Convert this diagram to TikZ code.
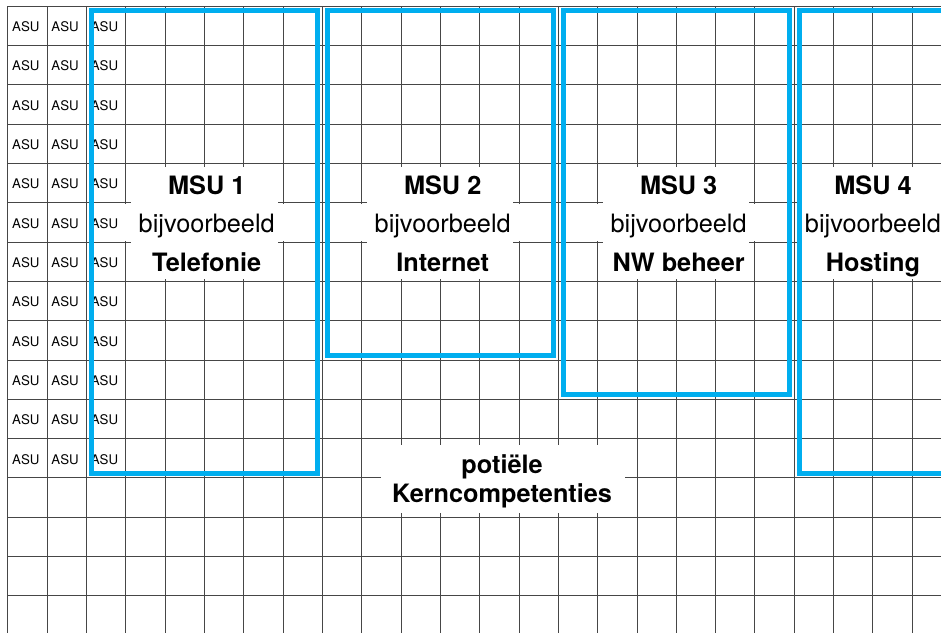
\documentclass[tikz,border=0pt]{standalone}
\usepackage{fontspec}
\setmainfont{TeX Gyre Heros}
\definecolor{msublue}{RGB}{0,174,239}
\definecolor{gridc}{RGB}{70,70,70}
\tikzset{
  gridline/.style={draw=gridc, line width=0.7pt},
  asu/.style={font=\fontsize{9.6}{11}\selectfont, anchor=base, inner sep=0pt},
  lbl/.style={font=\fontsize{18.3}{21}\selectfont, anchor=base, inner sep=0pt},
  lblb/.style={font=\fontsize{18.3}{21}\selectfont\bfseries, anchor=base, inner sep=0pt},
  msubox/.style={draw=msublue, line width=3.6pt},
  whitebg/.style={fill=white, draw=none},
}
\begin{document}
\begin{tikzpicture}
\useasboundingbox (-0.196,0.153) rectangle (23.73,-15.92);
\clip (-0.196,0.153) rectangle (23.73,-15.92);
\fill[white] (-0.196,0.153) rectangle (23.73,-15.92);
% grid
\foreach \i in {0,...,23} \draw[gridline] (\i,0) -- (\i,-16.5);
\foreach \j in {0,...,15} \draw[gridline] (0,-\j) -- (24.5,-\j);
% ASU cells
\foreach \j in {0,...,11}
  \foreach \i in {0,1,2}
    \node[asu] (asu-\i-\j) at (\i+0.46,-\j-0.65) {ASU};
% white label backgrounds
\foreach \c/\w in {5/2.06, 11/2.06, 17/2.06, 22/1.97} {
  \fill[whitebg] (\c-1.86,-4.1) rectangle (\c+1.86,-6.95);
  \fill[whitebg] (\c-\w,-5.03) rectangle (\c+\w,-5.97);
}
\fill[whitebg] (9.49,-11.16) rectangle (15.69,-12.9);
% labels
\node[lblb] (msu1) at (5.06,-4.8) {MSU 1};
\node[lbl]  (ex1)  at (5.06,-5.77) {bijvoorbeeld};
\node[lblb] (dom1) at (5.06,-6.76) {Telefonie};
\node[lblb] (msu2) at (11.06,-4.8) {MSU 2};
\node[lbl]  (ex2)  at (11.06,-5.77) {bijvoorbeeld};
\node[lblb] (dom2) at (11.06,-6.76) {Internet};
\node[lblb] (msu3) at (17.06,-4.8) {MSU 3};
\node[lbl]  (ex3)  at (17.06,-5.77) {bijvoorbeeld};
\node[lblb] (dom3) at (17.06,-6.76) {NW beheer};
\node[lblb] (msu4) at (22.0,-4.8) {MSU 4};
\node[lbl]  (ex4)  at (22.0,-5.77) {bijvoorbeeld};
\node[lblb] (dom4) at (22.0,-6.76) {Hosting};
\node[lblb] (pot)  at (12.57,-11.88) {potiële};
\node[lblb] (kern) at (12.57,-12.62) {Kerncompetenties};
% MSU frames
\draw[msubox] (2.125,-0.125) rectangle (7.875,-11.875);
\draw[msubox] (8.125,-0.125) rectangle (13.875,-8.875);
\draw[msubox] (14.125,-0.125) rectangle (19.875,-9.875);
\draw[msubox] (20.125,-0.125) rectangle (26.125,-11.875);
\end{tikzpicture}
\end{document}
